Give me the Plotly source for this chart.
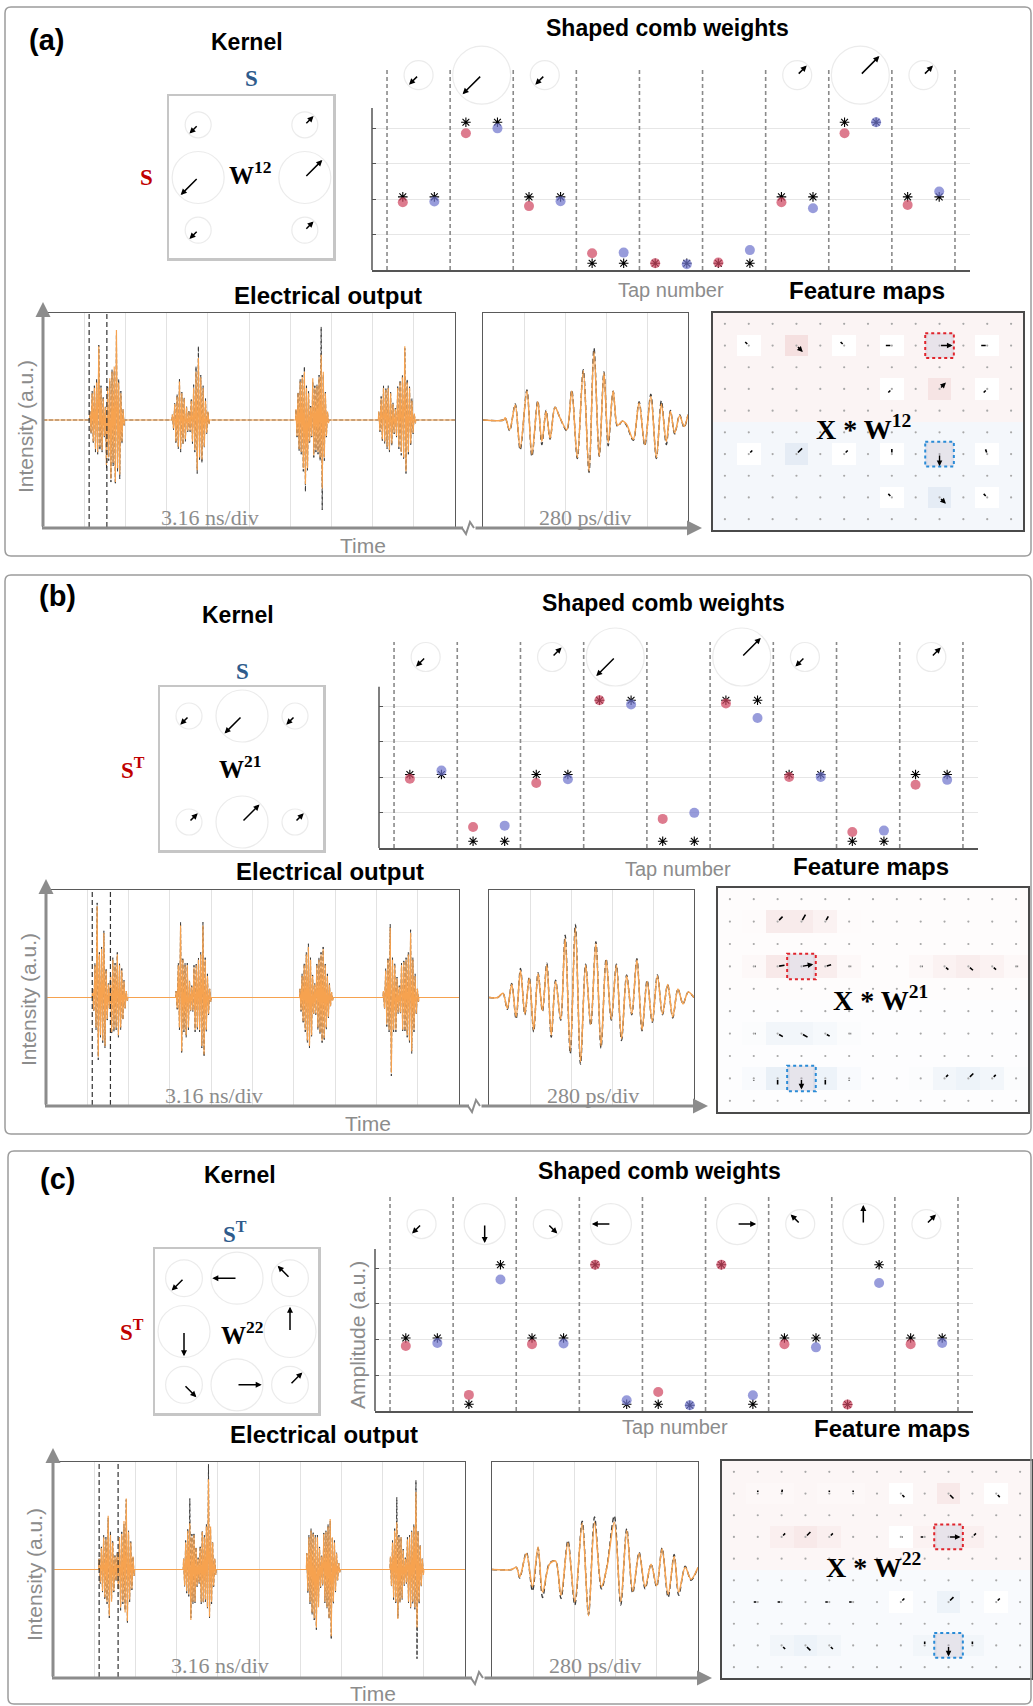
import math
import numpy as np
import plotly.graph_objects as go

W, H = 1033, 1706
def px(x): return x / W
def py(y): return 1 - y / H

# ======================= DATA =======================
tap_number = [1, 2, 3, 4, 5, 6, 7, 8, 9]

# kernels (magnitude, phase angle in degrees), rows top->bottom
kern_a_mag = [[0.5, 0, 0.5], [1, 0, 1], [0.5, 0, 0.5]]
kern_a_ang = [[225, 0, 45], [225, 0, 45], [225, 0, 45]]
kern_b_mag = [[0.5, 1, 0.5], [0, 0, 0], [0.5, 1, 0.5]]
kern_b_ang = [[225, 225, 225], [0, 0, 0], [45, 45, 45]]
kern_c_mag = [[0.5, 0.707, 0.5], [0.707, 0, 0.707], [0.5, 0.707, 0.5]]
kern_c_ang = [[225, 180, 135], [270, 0, 90], [315, 0, 45]]

# shaped comb weights (target = asterisks, measured = dots)
comb_a_red_target = [2.06, 4.16, 2.06, 0.19, 0.19, 0.19, 2.06, 4.16, 2.06]
comb_a_blue_target = [2.06, 4.16, 2.06, 0.19, 0.19, 0.19, 2.06, 4.16, 2.06]
comb_a_red = [1.91, 3.85, 1.80, 0.47, 0.19, 0.21, 1.91, 3.85, 1.83]
comb_a_blue = [1.93, 3.99, 1.94, 0.49, 0.16, 0.56, 1.74, 4.16, 2.21]

comb_b_red_target = [2.07, 0.19, 2.07, 4.16, 0.19, 4.16, 2.07, 0.19, 2.07]
comb_b_blue_target = [2.07, 0.19, 2.07, 4.16, 0.19, 4.16, 2.07, 0.19, 2.07]
comb_b_red = [1.95, 0.59, 1.83, 4.16, 0.82, 4.07, 2.00, 0.45, 1.78]
comb_b_blue = [2.18, 0.63, 1.94, 4.04, 0.99, 3.66, 2.00, 0.49, 1.92]

comb_c_red_target = [2.04, 0.19, 2.04, 4.09, 0.19, 4.09, 2.04, 0.18, 2.04]
comb_c_blue_target = [2.04, 4.09, 2.04, 0.19, 0.16, 0.19, 2.04, 4.09, 2.04]
comb_c_red = [1.82, 0.45, 1.87, 4.09, 0.53, 4.09, 1.87, 0.18, 1.87]
comb_c_blue = [1.90, 3.68, 1.89, 0.30, 0.16, 0.44, 1.78, 3.58, 1.90]

# electrical output, 3.16 ns/div (time in divisions); bursts of alternating extrema
a_burst_start = [1.14, 3.14, 6.14, 8.15]
a_burst_end = [1.97, 4.03, 6.93, 9.04]
a_burst_amp = [
    [0.08, -0.12, 0.25, -0.2, 0.3, -0.27, 0.35, -0.3, 0.69, -0.25, 0.3, -0.28, 0.2, -0.15, 0.12, -0.42,
     0.3, -0.35, 0.39, -0.55, 0.45, -0.4, 0.5, -0.58, 0.84, -0.45, 0.35, -0.51, 0.25, -0.2, 0.1, -0.05],
    [0.05, -0.08, 0.15, -0.2, 0.22, -0.25, 0.36, -0.27, 0.25, -0.22, 0.2, -0.18, 0.12, -0.1, 0.08, -0.1,
     0.18, -0.2, 0.3, -0.28, 0.45, -0.47, 0.58, -0.35, 0.4, -0.37, 0.3, -0.25, 0.18, -0.12, 0.08, -0.04],
    [0.1, -0.15, 0.25, -0.27, 0.36, -0.3, 0.4, -0.45, 0.45, -0.6, 0.3, -0.45, 0.25, -0.2, 0.12, -0.15,
     0.39, -0.33, 0.3, -0.28, 0.32, -0.3, 0.4, -0.35, 0.61, -0.64, 0.45, -0.35, 0.25, -0.15, 0.08, -0.03],
    [0.08, -0.1, 0.2, -0.18, 0.3, -0.2, 0.28, -0.25, 0.3, -0.28, 0.25, -0.22, 0.15, -0.12, 0.1, -0.15,
     0.3, -0.25, 0.35, -0.3, 0.4, -0.35, 0.69, -0.48, 0.35, -0.3, 0.3, -0.22, 0.18, -0.12, 0.06, -0.03]]
a_burst_ref = [
    [0.08, -0.13, 0.27, -0.22, 0.32, -0.3, 0.38, -0.32, 0.7, -0.28, 0.32, -0.3, 0.22, -0.16, 0.13, -0.45,
     0.32, -0.38, 0.36, -0.58, 0.47, -0.43, 0.46, -0.6, 0.8, -0.48, 0.38, -0.55, 0.27, -0.22, 0.1, -0.05],
    [0.05, -0.09, 0.16, -0.22, 0.24, -0.27, 0.39, -0.3, 0.26, -0.23, 0.21, -0.2, 0.13, -0.11, 0.09, -0.11,
     0.2, -0.22, 0.33, -0.3, 0.5, -0.5, 0.69, -0.38, 0.42, -0.4, 0.32, -0.26, 0.2, -0.13, 0.08, -0.04],
    [0.1, -0.16, 0.26, -0.29, 0.38, -0.32, 0.42, -0.48, 0.5, -0.67, 0.32, -0.47, 0.27, -0.21, 0.13, -0.16,
     0.36, -0.35, 0.32, -0.3, 0.33, -0.32, 0.42, -0.38, 0.87, -0.84, 0.42, -0.38, 0.27, -0.16, 0.08, -0.03],
    [0.08, -0.11, 0.22, -0.2, 0.32, -0.22, 0.3, -0.27, 0.32, -0.3, 0.27, -0.24, 0.16, -0.13, 0.11, -0.16,
     0.32, -0.27, 0.37, -0.33, 0.42, -0.37, 0.67, -0.5, 0.38, -0.32, 0.32, -0.24, 0.2, -0.13, 0.06, -0.03]]
a_window = [1.12, 1.55]

b_burst_start = [1.13, 3.15, 6.15, 8.17]
b_burst_end = [1.97, 3.99, 6.94, 9.02]
b_burst_amp = [
    [0.08, -0.12, 0.3, -0.28, 0.85, -0.55, 0.4, -0.35, 0.45, -0.4, 0.6, -0.45, 0.25, -0.2, 0.12, -0.1,
     0.2, -0.32, 0.35, -0.3, 0.3, -0.28, 0.4, -0.35, 0.3, -0.28, 0.25, -0.2, 0.15, -0.1, 0.06, -0.03],
    [0.06, -0.1, 0.3, -0.28, 0.67, -0.5, 0.35, -0.3, 0.3, -0.35, 0.3, -0.28, 0.15, -0.12, 0.1, -0.12,
     0.28, -0.3, 0.3, -0.28, 0.35, -0.3, 0.4, -0.45, 0.67, -0.53, 0.35, -0.3, 0.2, -0.15, 0.08, -0.04],
    [0.08, -0.12, 0.2, -0.22, 0.3, -0.3, 0.4, -0.4, 0.47, -0.45, 0.35, -0.35, 0.2, -0.15, 0.12, -0.15,
     0.3, -0.28, 0.35, -0.32, 0.4, -0.4, 0.45, -0.38, 0.3, -0.28, 0.2, -0.18, 0.12, -0.08, 0.05, -0.03],
    [0.06, -0.1, 0.25, -0.25, 0.35, -0.3, 0.65, -0.7, 0.35, -0.3, 0.3, -0.3, 0.18, -0.14, 0.1, -0.14,
     0.3, -0.3, 0.33, -0.3, 0.35, -0.35, 0.4, -0.4, 0.6, -0.5, 0.35, -0.3, 0.2, -0.15, 0.08, -0.04]]
b_burst_ref = [
    [0.08, -0.13, 0.32, -0.3, 0.88, -0.58, 0.42, -0.37, 0.47, -0.42, 0.62, -0.47, 0.27, -0.21, 0.13, -0.11,
     0.22, -0.34, 0.37, -0.32, 0.32, -0.3, 0.42, -0.37, 0.32, -0.3, 0.27, -0.21, 0.16, -0.1, 0.06, -0.03],
    [0.06, -0.11, 0.32, -0.3, 0.7, -0.52, 0.37, -0.32, 0.32, -0.37, 0.32, -0.3, 0.16, -0.13, 0.11, -0.13,
     0.3, -0.32, 0.32, -0.3, 0.37, -0.32, 0.42, -0.47, 0.7, -0.55, 0.37, -0.32, 0.22, -0.16, 0.08, -0.04],
    [0.08, -0.13, 0.22, -0.24, 0.32, -0.32, 0.42, -0.42, 0.5, -0.47, 0.37, -0.37, 0.21, -0.16, 0.13, -0.16,
     0.32, -0.3, 0.37, -0.34, 0.42, -0.42, 0.47, -0.4, 0.32, -0.3, 0.22, -0.19, 0.13, -0.08, 0.05, -0.03],
    [0.06, -0.11, 0.27, -0.27, 0.37, -0.32, 0.68, -0.73, 0.37, -0.32, 0.32, -0.32, 0.19, -0.15, 0.11, -0.15,
     0.32, -0.32, 0.35, -0.32, 0.37, -0.37, 0.42, -0.42, 0.63, -0.52, 0.37, -0.32, 0.22, -0.16, 0.08, -0.04]]
b_window = [1.12, 1.56]

c_burst_start = [1.12, 3.17, 6.16, 8.19]
c_burst_end = [1.97, 3.95, 6.96, 8.99]
c_burst_amp = [
    [0.1, -0.12, 0.2, -0.2, 0.3, -0.26, 0.28, -0.3, 0.5, -0.43, 0.32, -0.3, 0.25, -0.2, 0.12, -0.1,
     0.15, -0.18, 0.3, -0.35, 0.33, -0.3, 0.45, -0.4, 0.66, -0.48, 0.35, -0.28, 0.25, -0.18, 0.12, -0.06],
    [0.1, -0.15, 0.25, -0.2, 0.36, -0.23, 0.43, -0.47, 0.3, -0.3, 0.32, -0.3, 0.2, -0.15, 0.1, -0.12,
     0.2, -0.3, 0.35, -0.3, 0.3, -0.28, 0.4, -0.35, 0.84, -0.44, 0.4, -0.3, 0.25, -0.15, 0.1, -0.05],
    [0.15, -0.2, 0.3, -0.3, 0.36, -0.4, 0.33, -0.45, 0.3, -0.54, 0.3, -0.35, 0.2, -0.16, 0.12, -0.14,
     0.33, -0.3, 0.35, -0.35, 0.4, -0.45, 0.47, -0.62, 0.3, -0.3, 0.25, -0.2, 0.15, -0.1, 0.06, -0.03],
    [0.12, -0.15, 0.25, -0.26, 0.36, -0.3, 0.44, -0.46, 0.3, -0.3, 0.3, -0.27, 0.18, -0.14, 0.1, -0.12,
     0.28, -0.3, 0.3, -0.35, 0.35, -0.3, 0.4, -0.35, 0.72, -0.54, 0.35, -0.3, 0.22, -0.15, 0.1, -0.05]]
c_burst_ref = [
    [0.1, -0.13, 0.22, -0.21, 0.32, -0.28, 0.3, -0.32, 0.48, -0.45, 0.35, -0.28, 0.27, -0.21, 0.13, -0.11,
     0.16, -0.19, 0.31, -0.38, 0.35, -0.32, 0.42, -0.38, 0.65, -0.5, 0.36, -0.3, 0.26, -0.19, 0.12, -0.06],
    [0.1, -0.16, 0.27, -0.22, 0.38, -0.25, 0.66, -0.45, 0.33, -0.32, 0.34, -0.31, 0.21, -0.16, 0.11, -0.13,
     0.22, -0.32, 0.36, -0.31, 0.32, -0.3, 0.42, -0.36, 0.98, -0.46, 0.38, -0.32, 0.26, -0.16, 0.1, -0.05],
    [0.15, -0.22, 0.32, -0.32, 0.38, -0.42, 0.35, -0.47, 0.32, -0.56, 0.32, -0.33, 0.21, -0.17, 0.13, -0.15,
     0.34, -0.31, 0.36, -0.36, 0.42, -0.46, 0.45, -0.65, 0.3, -0.32, 0.27, -0.21, 0.16, -0.1, 0.06, -0.03],
    [0.12, -0.16, 0.27, -0.28, 0.38, -0.32, 0.67, -0.45, 0.32, -0.31, 0.3, -0.28, 0.19, -0.15, 0.11, -0.13,
     0.3, -0.31, 0.32, -0.36, 0.36, -0.32, 0.42, -0.37, 0.83, -0.83, 0.36, -0.32, 0.23, -0.16, 0.1, -0.05]]
c_window = [1.12, 1.58]

# electrical output, 280 ps/div (time in ps)
a_zoom_t = [0, 141, 152, 182, 220, 254, 300, 334, 374, 402, 431, 458, 492, 526, 572, 606, 644, 685, 724, 758,
            794, 826, 855, 889, 919, 953, 980, 1026, 1066, 1105, 1146, 1184, 1218, 1252, 1280, 1309, 1343, 1373, 1400]
a_zoom_v = [0, 0, 0.02, -0.09, 0.14, -0.26, 0.27, -0.32, 0.17, -0.20, 0.08, -0.17, 0.12, 0.02, -0.09, 0.27, -0.35, 0.46, -0.48, 0.64,
            -0.34, 0.44, -0.21, 0.27, -0.05, -0.01, -0.04, -0.18, 0.16, -0.23, 0.22, -0.35, 0.15, -0.20, 0.08, -0.12, 0.04, -0.06, 0.05]
a_zoom_ref = [0, 0, 0.02, -0.1, 0.15, -0.28, 0.28, -0.34, 0.18, -0.23, 0.09, -0.18, 0.12, 0.02, -0.1, 0.28, -0.36, 0.47, -0.49, 0.67,
              -0.34, 0.45, -0.24, 0.27, -0.06, -0.01, -0.05, -0.19, 0.17, -0.24, 0.24, -0.36, 0.18, -0.23, 0.09, -0.13, 0.05, -0.07, 0.05]

b_zoom_t = [0, 60, 95, 125, 155, 185, 215, 245, 275, 305, 335, 365, 395, 425, 455, 490, 520, 555, 590, 625, 660,
            695, 730, 765, 800, 835, 870, 905, 940, 975, 1010, 1045, 1080, 1115, 1150, 1185, 1220, 1255, 1290, 1325, 1360, 1400]
b_zoom_v = [0, 0, 0.04, -0.1, 0.12, -0.18, 0.25, -0.15, 0.18, -0.3, 0.22, -0.12, 0.3, -0.35, 0.15, -0.2, 0.55, -0.5, 0.65, -0.6, 0.3,
            -0.25, 0.5, -0.45, 0.35, -0.2, 0.3, -0.38, 0.2, -0.15, 0.35, -0.3, 0.15, -0.22, 0.2, -0.15, 0.12, -0.18, 0.08, -0.06, 0.05, 0]
b_zoom_ref = [0, 0, 0.04, -0.11, 0.13, -0.2, 0.27, -0.16, 0.19, -0.32, 0.23, -0.13, 0.32, -0.37, 0.16, -0.21, 0.58, -0.52, 0.68, -0.62, 0.31,
              -0.26, 0.52, -0.47, 0.36, -0.21, 0.31, -0.4, 0.21, -0.16, 0.36, -0.31, 0.16, -0.23, 0.21, -0.16, 0.12, -0.19, 0.08, -0.06, 0.05, 0]

c_zoom_t = [0, 134, 166, 188, 234, 275, 313, 344, 391, 431, 469, 516, 563, 613, 656, 697, 744, 781, 831, 875,
            916, 956, 1000, 1041, 1081, 1119, 1156, 1197, 1238, 1269, 1313, 1353, 1400]
c_zoom_v = [0, 0, 0.02, -0.07, 0.15, -0.16, 0.21, -0.21, 0.05, 0.08, -0.24, 0.25, -0.30, 0.43, -0.43, 0.44, -0.16, 0.02, 0.44, -0.30,
            0.36, -0.20, 0.15, -0.16, 0.05, -0.15, 0.19, -0.23, 0.12, -0.21, 0.02, -0.09, 0.02]
c_zoom_ref = [0, 0, 0.02, -0.08, 0.16, -0.2, 0.2, -0.26, 0.06, 0.08, -0.27, 0.27, -0.33, 0.45, -0.42, 0.49, -0.18, 0.03, 0.5, -0.33,
              0.38, -0.22, 0.16, -0.18, 0.05, -0.16, 0.2, -0.26, 0.14, -0.24, 0.03, -0.1, 0.02]

# feature maps (10 rows x 13 columns): active nodes
fm_a_row = [1, 1, 1, 1, 1, 1, 3, 3, 3, 6, 6, 6, 6, 6, 6, 8, 8, 8]
fm_a_col = [1, 3, 5, 7, 9, 11, 7, 9, 11, 1, 3, 5, 7, 9, 11, 7, 9, 11]
fm_a_len = [5, 9, 5, 6, 13, 6, 5, 9, 5, 5, 8, 5, 5, 12, 5, 5, 9, 5]
fm_a_ang = [135, -45, 135, 180, 0, 180, 225, 45, 225, 45, 45, 45, 90, 270, 110, 135, -45, 135]
fm_a_tint = [0, 0.7, 0, 0, 0.1, 0, 0, 0.6, 0, 0, -0.6, 0, 0, -0.1, 0, 0, -0.6, 0]
fm_a_bg = [0.25, -0.25]
fm_a_red_box = [1, 9]
fm_a_blue_box = [6, 9]

fm_b_row = [1, 1, 1, 1, 1, 3, 3, 3, 3, 3, 3, 3, 3, 3, 3, 6, 6, 6, 6, 6, 8, 8, 8, 8, 8, 8, 8, 8, 8, 8]
fm_b_col = [1, 2, 3, 4, 5, 1, 2, 3, 4, 5, 8, 9, 10, 11, 12, 1, 2, 3, 4, 5, 1, 2, 3, 4, 5, 8, 9, 10, 11, 12]
fm_b_len = [2, 7, 8, 6, 2, 2, 7, 12, 6, 2, 2, 5, 6, 5, 2, 2, 6, 7, 5, 2, 2, 6, 11, 6, 2, 2, 5, 7, 5, 2]
fm_b_ang = [45, 45, 60, 60, 45, 0, 10, 10, 15, 0, 0, -40, -40, -40, 0, 0, -30, -30, -30, 0, 270, 270, 270, 270, 270, 45, 45, 45, 45, 45]
fm_b_tint = [0.1, 0.45, 0.45, 0.3, 0.1, 0.15, 0.5, 0.1, 0.4, 0.15, 0.15, 0.3, 0.4, 0.3, 0.15,
             -0.1, -0.3, -0.3, -0.2, -0.1, -0.15, -0.5, -0.1, -0.4, -0.15, -0.1, -0.3, -0.4, -0.3, -0.1]
fm_b_bg = [0.06, -0.05]
fm_b_red_box = [3, 3]
fm_b_blue_box = [8, 3]

fm_c_row = [1, 1, 1, 1, 1, 1, 1, 3, 3, 3, 3, 3, 3, 3, 6, 6, 6, 6, 6, 6, 6, 8, 8, 8, 8, 8, 8]
fm_c_col = [1, 2, 4, 5, 7, 9, 11, 2, 3, 4, 7, 8, 9, 10, 1, 2, 4, 5, 7, 9, 11, 2, 3, 4, 8, 9, 10]
fm_c_len = [3, 4, 3, 3, 5, 7, 5, 5, 7, 5, 2, 4, 12, 5, 4, 4, 4, 4, 5, 7, 5, 5, 7, 5, 4, 11, 4]
fm_c_ang = [90, 80, 90, 90, -45, -45, -45, 45, 45, 45, 0, 180, 0, 45, 180, 180, 180, 180, 45, 45, 45, -45, -45, -45, 90, 270, 90]
fm_c_tint = [0.15, 0.15, 0.15, 0.15, 0, 0.5, 0, 0.35, 0.5, 0.35, 0, 0.3, 0.1, 0.35, -0.15, -0.15, -0.15, -0.15, 0, -0.4, 0,
             -0.3, -0.4, -0.3, -0.3, -0.1, -0.3]
fm_c_bg = [0.2, -0.15]
fm_c_red_box = [3, 9]
fm_c_blue_box = [8, 9]

# ======================= LAYOUT HELPERS =======================
layout = dict(width=W, height=H, margin=dict(l=0, r=0, t=0, b=0), autosize=False,
              paper_bgcolor='white', plot_bgcolor='rgba(0,0,0,0)', showlegend=False, hovermode=False)
shapes, annotations, traces = [], [], []
axis_count = [0]

def new_axes(dom, xr, yr, xkw=None, ykw=None):
    axis_count[0] += 1
    i = axis_count[0]
    s = '' if i == 1 else str(i)
    base = dict(showticklabels=False, zeroline=False, showgrid=False, ticks='', showline=False, fixedrange=True)
    xa = dict(base, domain=[px(dom[0]), px(dom[2])], range=xr, anchor='y' + s)
    ya = dict(base, domain=[py(dom[3]), py(dom[1])], range=yr, anchor='x' + s)
    xa.update(xkw or {})
    ya.update(ykw or {})
    layout['xaxis' + s] = xa
    layout['yaxis' + s] = ya
    return 'x' + s, 'y' + s

def text(x, y, s, size, color='black', family='Liberation Sans', bold=False, angle=0, xanchor='center', yanchor='middle'):
    annotations.append(dict(xref='paper', yref='paper', x=px(x), y=py(y), text=('<b>%s</b>' % s) if bold else s,
                            showarrow=False, font=dict(size=size, color=color, family=family),
                            xanchor=xanchor, yanchor=yanchor, textangle=angle))

def arrow(xr, yr, x, y, L, ang, width=1.5, head=2, size=1.0, color='black'):
    c, s = math.cos(math.radians(ang)), math.sin(math.radians(ang))
    annotations.append(dict(xref=xr, yref=yr, x=x, y=y, xshift=L * c, yshift=L * s, ax=-L * c, ay=L * s,
                            axref='pixel', ayref='pixel', showarrow=True, arrowhead=head, arrowsize=size,
                            arrowwidth=width, arrowcolor=color, text='', standoff=0, startstandoff=0))

def pline(x0, y0, x1, y1, color, width, dash='solid'):
    shapes.append(dict(type='line', xref='paper', yref='paper', x0=px(x0), y0=py(y0), x1=px(x1), y1=py(y1),
                       line=dict(color=color, width=width, dash=dash)))

def rounded_frame(x0, y0, x1, y1, r=6):
    pts = ("M {a},{b} L {c},{b} Q {d},{b} {d},{e} L {d},{f} Q {d},{g} {c},{g} L {a},{g} Q {h},{g} {h},{f} "
           "L {h},{e} Q {h},{b} {a},{b} Z").format(a=px(x0 + r), b=py(y0), c=px(x1 - r), d=px(x1), e=py(y0 + r),
                                                   f=py(y1 - r), g=py(y1), h=px(x0))
    shapes.append(dict(type='path', xref='paper', yref='paper', path=pts, line=dict(color='#9c9c9c', width=1.5)))

RED_S = '#c00000'
BLUE_S = '#2e5b8c'
GRAY_T = '#8c8c8c'
ORANGE = '#f6a24f'

PANELS = [
    dict(lab='(a)', frame=(5, 7, 1031, 556), label=(46, 40),
         kt=(247, 42), stop=(251, 78), kbox=(169, 96, 333, 258), sleft=(146, 177), wt=(250, 173),
         top_s='S', left_s='S', wname='12',
         kmag=kern_a_mag, kang=kern_a_ang,
         comb=(372, 40, 970, 270), unit=35.5, ct=(667, 28), tapn=(671, 290), fmt=(867, 290),
         circ_y=5.49, dash_top=5.69, yax_top=4.56, amp=None,
         red_t=comb_a_red_target, blue_t=comb_a_blue_target, red=comb_a_red, blue=comb_a_blue,
         et=(328, 295), main=(43, 313, 455, 527), zoom=(483, 313, 688, 527), ytop=302, xend=702, brk=468,
         time=(363, 545), inten=(25, 427), ns=(210, 517), ps=(585, 517),
         bs=a_burst_start, be=a_burst_end, ba=a_burst_amp, br=a_burst_ref, win=a_window,
         zt=a_zoom_t, zv=a_zoom_v, zr=a_zoom_ref,
         fm=(713, 313, 1023, 530), xw=(863, 427),
         frow=fm_a_row, fcol=fm_a_col, flen=fm_a_len, fang=fm_a_ang, ftint=fm_a_tint, fbg=fm_a_bg,
         rbox=fm_a_red_box, bbox=fm_a_blue_box),
    dict(lab='(b)', frame=(5, 575, 1031, 1134), label=(57, 596),
         kt=(238, 615), stop=(242, 671), kbox=(160, 687, 323, 850), sleft=(133, 768), wt=(240, 767),
         top_s='S', left_s='S<sup>T</sup>', wname='21',
         kmag=kern_b_mag, kang=kern_b_ang,
         comb=(379, 618, 978, 848), unit=35.5, ct=(663, 603), tapn=(678, 869), fmt=(871, 866),
         circ_y=5.38, dash_top=5.8, yax_top=4.54, amp=None,
         red_t=comb_b_red_target, blue_t=comb_b_blue_target, red=comb_b_red, blue=comb_b_blue,
         et=(330, 871), main=(46, 890, 459, 1105), zoom=(489, 890, 694, 1105), ytop=879, xend=708, brk=474,
         time=(368, 1123), inten=(28, 1000), ns=(214, 1095), ps=(593, 1095),
         bs=b_burst_start, be=b_burst_end, ba=b_burst_amp, br=b_burst_ref, win=b_window,
         zt=b_zoom_t, zv=b_zoom_v, zr=b_zoom_ref,
         fm=(718, 888, 1028, 1112), xw=(880, 998),
         frow=fm_b_row, fcol=fm_b_col, flen=fm_b_len, fang=fm_b_ang, ftint=fm_b_tint, fbg=fm_b_bg,
         rbox=fm_b_red_box, bbox=fm_b_blue_box),
    dict(lab='(c)', frame=(8, 1151, 1031, 1704), label=(57, 1179),
         kt=(240, 1175), stop=(235, 1232), kbox=(155, 1249, 318, 1413), sleft=(132, 1330), wt=(242, 1333),
         top_s='S<sup>T</sup>', left_s='S<sup>T</sup>', wname='22',
         kmag=kern_c_mag, kang=kern_c_ang,
         comb=(375, 1188, 973, 1411), unit=35.75, ct=(659, 1171), tapn=(675, 1427), fmt=(892, 1428),
         circ_y=5.23, dash_top=6.04, yax_top=4.53, amp=(357, 1335),
         red_t=comb_c_red_target, blue_t=comb_c_blue_target, red=comb_c_red, blue=comb_c_blue,
         et=(324, 1434), main=(53, 1462, 465, 1677), zoom=(492, 1462, 698, 1677), ytop=1448, xend=712, brk=477,
         time=(373, 1693), inten=(34, 1575), ns=(220, 1665), ps=(595, 1665),
         bs=c_burst_start, be=c_burst_end, ba=c_burst_amp, br=c_burst_ref, win=c_window,
         zt=c_zoom_t, zv=c_zoom_v, zr=c_zoom_ref,
         fm=(722, 1461, 1032, 1678), xw=(873, 1565),
         frow=fm_c_row, fcol=fm_c_col, flen=fm_c_len, fang=fm_c_ang, ftint=fm_c_tint, fbg=fm_c_bg,
         rbox=fm_c_red_box, bbox=fm_c_blue_box),
]

for P in PANELS:
    rounded_frame(*P['frame'])
    text(*P['label'], P['lab'], 29, bold=True)

    # ---------------- kernel ----------------
    text(*P['kt'], 'Kernel', 23, bold=True)
    text(*P['stop'], '<b>%s</b>' % P['top_s'], 23, color=BLUE_S, family='Liberation Serif')
    text(*P['sleft'], '<b>%s</b>' % P['left_s'], 23, color=RED_S, family='Liberation Serif')
    kx, ky = new_axes(P['kbox'], [-0.547, 2.528], [2.528, -0.547],
                      dict(showline=True, mirror=True, linecolor='#c6c6c6', linewidth=2.5),
                      dict(showline=True, mirror=True, linecolor='#c6c6c6', linewidth=2.5))
    kmax = max(max(r) for r in P['kmag'])
    cx, cy, cs = [], [], []
    for r in range(3):
        for c in range(3):
            m = P['kmag'][r][c]
            if m > 0:
                d = 52 * m / kmax
                cx.append(c); cy.append(r); cs.append(d)
                arrow(kx, ky, c, r, 0.95 * d / 2, P['kang'][r][c], width=1.5, size=0.8)
    traces.append(go.Scatter(x=cx, y=cy, xaxis=kx, yaxis=ky, mode='markers',
                             marker=dict(symbol='circle-open', size=cs, color='#e2e2e2', line=dict(width=1.2))))
    text(*P['wt'], '<b>W<sup>%s</sup></b>' % P['wname'], 25, family='Liberation Serif')

    # ---------------- shaped comb weights ----------------
    text(*P['ct'], 'Shaped comb weights', 23, bold=True)
    text(*P['tapn'], 'Tap number', 20, color=GRAY_T)
    text(*P['fmt'], 'Feature maps', 24, bold=True)
    x0, y0, x1, y1 = P['comb']
    ytop = (y1 - y0) / P['unit']
    cbx, cby = new_axes(P['comb'], [0.262, 9.738], [0, ytop],
                        dict(showline=True, linecolor='#555555', linewidth=1.5),
                        dict(showgrid=True, gridcolor='#e6e6e6', gridwidth=1, tickvals=[1, 2, 3, 4],
                             ticks='inside', ticklen=4, tickcolor='#555555'))
    pline(x0, y1, x0, y1 - P['yax_top'] * P['unit'], '#555555', 1.5)
    for k in range(10):
        shapes.append(dict(type='line', xref=cbx, yref=cby, x0=k + 0.5, x1=k + 0.5, y0=0, y1=P['dash_top'],
                           line=dict(color='#8a8a8a', width=1.6, dash='4px,3px')))
    xr_ = [t - 0.25 for t in tap_number]
    xb_ = [t + 0.25 for t in tap_number]
    traces.append(go.Scatter(x=xr_ + xb_, y=P['red_t'] + P['blue_t'], xaxis=cbx, yaxis=cby, mode='markers',
                             marker=dict(symbol='asterisk-open', size=8, color='black', line=dict(width=1.1, color='black'))))
    traces.append(go.Scatter(x=xr_, y=P['red'], xaxis=cbx, yaxis=cby, mode='markers',
                             marker=dict(size=10, color='rgba(208,72,98,0.72)')))
    traces.append(go.Scatter(x=xb_, y=P['blue'], xaxis=cbx, yaxis=cby, mode='markers',
                             marker=dict(size=10, color='rgba(112,118,205,0.72)')))
    ccx, ccy, ccs = [], [], []
    for k in range(9):
        r, c = k % 3, k // 3
        m = P['kmag'][r][c]
        if m > 0:
            d = 58 * m
            ccx.append(tap_number[k]); ccy.append(P['circ_y']); ccs.append(d)
            arrow(cbx, cby, tap_number[k], P['circ_y'], 0.93 * d / 2, P['kang'][r][c], width=1.5, size=0.8)
    traces.append(go.Scatter(x=ccx, y=ccy, xaxis=cbx, yaxis=cby, mode='markers',
                             marker=dict(symbol='circle-open', size=ccs, color='#e2e2e2', line=dict(width=1.2))))
    if P['amp']:
        text(*P['amp'], 'Amplitude (a.u.)', 21, color=GRAY_T, angle=-90)

    # ---------------- electrical output ----------------
    text(*P['et'], 'Electrical output', 24, bold=True)
    mx0, my0, mx1, my1 = P['main']
    frame_ax = dict(showline=True, mirror=True, linecolor='#5a5a5a', linewidth=1)
    mxa, mya = new_axes(P['main'], [0, 10], [-1, 1],
                        dict(frame_ax, showgrid=True, gridcolor='#e2e2e2', dtick=1, tick0=0), dict(frame_ax))
    t_all, v_all, r_all = [0.0], [0.0], [0.0]
    for s_, e_, amps, refs in zip(P['bs'], P['be'], P['ba'], P['br']):
        tt = np.linspace(s_, e_, len(amps)).tolist()
        t_all += [s_ - 0.01] + tt + [e_ + 0.01]
        v_all += [0.0] + amps + [0.0]
        r_all += [0.0] + refs + [0.0]
    t_all.append(10.0); v_all.append(0.0); r_all.append(0.0)
    traces.append(go.Scatter(x=t_all, y=r_all, xaxis=mxa, yaxis=mya, mode='lines',
                             line=dict(color='#3c3c3c', width=1, dash='4px,2px')))
    traces.append(go.Scatter(x=t_all, y=v_all, xaxis=mxa, yaxis=mya, mode='lines',
                             line=dict(color=ORANGE, width=1.2)))
    for wv in P['win']:
        shapes.append(dict(type='line', xref=mxa, yref=mya, x0=wv, x1=wv, y0=-1, y1=1,
                           line=dict(color='#333333', width=1.2, dash='5px,3px')))
    zxa, zya = new_axes(P['zoom'], [0, 1400], [-1, 1],
                        dict(frame_ax, showgrid=True, gridcolor='#e2e2e2', dtick=280, tick0=0), dict(frame_ax))
    traces.append(go.Scatter(x=P['zt'], y=P['zr'], xaxis=zxa, yaxis=zya, mode='lines',
                             line=dict(color='#3c3c3c', width=1.4, dash='5px,3px', shape='spline', smoothing=0.9)))
    traces.append(go.Scatter(x=P['zt'], y=P['zv'], xaxis=zxa, yaxis=zya, mode='lines',
                             line=dict(color=ORANGE, width=1.5, shape='spline', smoothing=0.9)))
    # heavy gray axes with arrows
    annotations.append(dict(xref='paper', yref='paper', x=px(mx0), y=py(P['ytop']), ax=0, ay=my1 - P['ytop'] + 1,
                            axref='pixel', ayref='pixel', showarrow=True, arrowhead=2, arrowsize=1, arrowwidth=3,
                            arrowcolor='#8c8c8c', text=''))
    pline(mx0 - 1, my1 + 1, P['brk'] - 5, my1 + 1, '#8c8c8c', 3)
    b = P['brk']
    shapes.append(dict(type='path', xref='paper', yref='paper',
                       path='M {},{} L {},{} L {},{} L {},{}'.format(px(b - 6), py(my1 + 1), px(b - 2), py(my1 + 7),
                                                                    px(b + 2), py(my1 - 5), px(b + 6), py(my1 + 1)),
                       line=dict(color='#8c8c8c', width=2)))
    annotations.append(dict(xref='paper', yref='paper', x=px(P['xend']), y=py(my1 + 1), ax=-(P['xend'] - b - 6), ay=0,
                            axref='pixel', ayref='pixel', showarrow=True, arrowhead=2, arrowsize=1, arrowwidth=3,
                            arrowcolor='#8c8c8c', text=''))
    text(*P['time'], 'Time', 21, color=GRAY_T)
    text(*P['inten'], 'Intensity (a.u.)', 21, color=GRAY_T, angle=-90)
    text(*P['ns'], '3.16 ns/div', 22, color=GRAY_T, family='Liberation Serif')
    text(*P['ps'], '280 ps/div', 22, color=GRAY_T, family='Liberation Serif')

    # ---------------- feature maps ----------------
    fxa, fya = new_axes(P['fm'], [-0.5, 12.5], [9.5, -0.5],
                        dict(showline=True, mirror=True, linecolor='#4a4a4a', linewidth=2),
                        dict(showline=True, mirror=True, linecolor='#4a4a4a', linewidth=2))
    z = np.zeros((10, 13))
    z[:5, :] = P['fbg'][0]
    z[5:, :] = P['fbg'][1]
    for r, c, tn in zip(P['frow'], P['fcol'], P['ftint']):
        z[r, c] = tn
    traces.append(go.Heatmap(z=z, x=list(range(13)), y=list(range(10)), xaxis=fxa, yaxis=fya,
                             colorscale=[[0, '#d3e0ef'], [0.5, '#ffffff'], [1, '#f0d2d2']], zmin=-1, zmax=1,
                             showscale=False, hoverinfo='skip'))
    gx = [c for r in range(10) for c in range(13)]
    gy = [r for r in range(10) for c in range(13)]
    traces.append(go.Scatter(x=gx, y=gy, xaxis=fxa, yaxis=fya, mode='markers',
                             marker=dict(size=2.2, color='#a8a8a8')))
    for (bx_r, bx_c), col in ((P['rbox'], '#e0242c'), (P['bbox'], '#2a8bd6')):
        shapes.append(dict(type='rect', xref=fxa, yref=fya, x0=bx_c - 0.6, x1=bx_c + 0.6, y0=bx_r - 0.57, y1=bx_r + 0.57,
                           fillcolor='rgba(175,165,190,0.28)', line=dict(color=col, width=2, dash='dot')))
    for r, c, L, a in zip(P['frow'], P['fcol'], P['flen'], P['fang']):
        if L >= 9:
            arrow(fxa, fya, c, r, L, a, width=1.4, head=2, size=0.8)
        else:
            arrow(fxa, fya, c, r, L, a, width=1.6, head=0)
    text(*P['xw'], '<b>X * W<sup>%s</sup></b>' % P['wname'], 28, family='Liberation Serif')

layout['shapes'] = shapes
layout['annotations'] = annotations
fig = go.Figure(data=traces, layout=layout)
fig.write_html("out.html", include_plotlyjs=True, config={'displayModeBar': False, 'staticPlot': True})
